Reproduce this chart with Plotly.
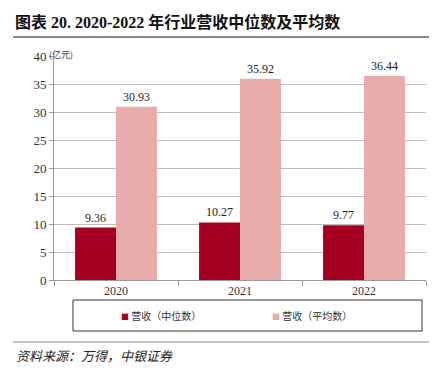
import plotly.graph_objects as go

categories = ["2020", "2021", "2022"]
median_vals = [9.36, 10.27, 9.77]
mean_vals = [30.93, 35.92, 36.44]
series_names = ["营收（中位数）", "营收（平均数）"]
series_colors = ["#A50021", "#EAABAB"]
y_ticks = [0, 5, 10, 15, 20, 25, 30, 35, 40]

W, H = 442, 377
L, R, T, B = 54, 16, 56, 97

serif = "Liberation Serif, Times New Roman, serif"
cjk = "Noto Sans CJK SC"

fig = go.Figure()
for vals, name, col in [(median_vals, series_names[0], series_colors[0]),
                        (mean_vals, series_names[1], series_colors[1])]:
    fig.add_trace(go.Bar(
        x=categories, y=vals, name=name,
        marker=dict(color=col, line=dict(width=0)),
        text=[f"{v:.2f}" for v in vals], textposition="outside",
        textfont=dict(family=serif, size=12, color="#222"), cliponaxis=False,
    ))

fig.update_layout(
    width=W, height=H,
    margin=dict(l=L, r=R, t=T, b=B),
    paper_bgcolor="white", plot_bgcolor="white",
    barmode="group", bargap=0.34, bargroupgap=0,
    showlegend=False,
    xaxis=dict(
        type="category", showgrid=False, showline=True, linecolor="#999", linewidth=1,
        ticks="outside", tickson="boundaries", ticklen=5, tickcolor="#999",
        tickfont=dict(family=serif, size=12, color="#333"),
    ),
    yaxis=dict(
        range=[0, 40], tickvals=y_ticks, showgrid=True, gridcolor="#BDBDBD", gridwidth=1,
        showline=True, linecolor="#999", linewidth=1, ticks="outside", ticklen=4,
        tickcolor="#999", zeroline=False,
        tickfont=dict(family=serif, size=13, color="#333"),
    ),
    font=dict(family=cjk),
)


def px_x(x):
    return (x - L) / (W - L - R)


def px_y(y):
    return (H - B - y) / (H - T - B)


# title
fig.add_annotation(
    xref="paper", yref="paper", x=px_x(13), y=px_y(22),
    xanchor="left", yanchor="middle", showarrow=False,
    text="<b>图表 20. 2020-2022 年行业营收中位数及平均数</b>",
    font=dict(family="Liberation Serif, " + cjk, size=16, color="#111"),
)
# unit label
fig.add_annotation(
    xref="paper", yref="paper", x=px_x(47), y=px_y(55),
    xanchor="left", yanchor="middle", showarrow=False,
    text="(亿元)", font=dict(family=cjk, size=9, color="#333"),
)
# source text
fig.add_annotation(
    xref="paper", yref="paper", x=px_x(14), y=px_y(355),
    xanchor="left", yanchor="middle", showarrow=False,
    text="<i>资料来源：万得，中银证券</i>", font=dict(family=cjk, size=13, color="#222"),
)
# legend entries
for sx, name, col in [(119, series_names[0], series_colors[0]),
                      (270, series_names[1], series_colors[1])]:
    fig.add_annotation(
        xref="paper", yref="paper", x=px_x(sx), y=px_y(315),
        xanchor="left", yanchor="middle", showarrow=False,
        text=f"<span style='color:{col};font-size:8px'>■</span> {name}",
        font=dict(family=cjk, size=10, color="#333"),
    )

# title underline
fig.add_shape(type="line", xref="paper", yref="paper", x0=px_x(13), x1=px_x(429),
              y0=px_y(37), y1=px_y(37), line=dict(color="#888", width=2))
# legend box
fig.add_shape(type="rect", xref="paper", yref="paper", x0=px_x(73), x1=px_x(422),
              y0=px_y(331), y1=px_y(300), line=dict(color="#333", width=1))
# source line
fig.add_shape(type="line", xref="paper", yref="paper", x0=px_x(13), x1=px_x(429),
              y0=px_y(342), y1=px_y(342), line=dict(color="#888", width=1))

fig.write_html("out.html", config={"displayModeBar": False},
               post_script="document.body.style.margin='0';")
